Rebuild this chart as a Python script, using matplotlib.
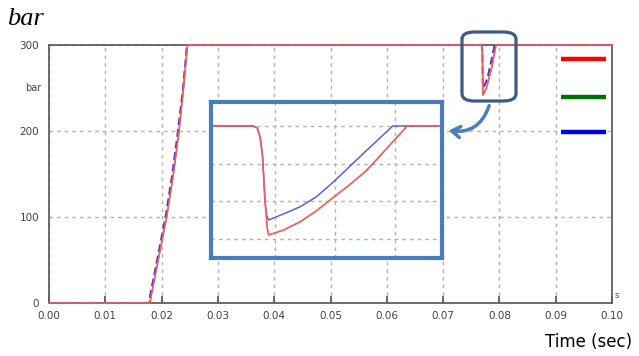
import matplotlib
matplotlib.use('Agg')
import matplotlib.pyplot as plt
from matplotlib.lines import Line2D
from matplotlib.patches import FancyBboxPatch, FancyArrowPatch

# pressure traces (bar) vs time (s)
red_t = [0.0, 0.0179, 0.0194, 0.0209, 0.0221, 0.0231, 0.0239, 0.0246,
         0.07683, 0.07690, 0.07695, 0.07699, 0.07703, 0.07707, 0.07709,
         0.07734, 0.07762, 0.07789, 0.0782, 0.07845, 0.07873, 0.07901,
         0.0794, 0.1]
red_v = [0, 0, 50, 100, 150, 200, 250, 300,
         300, 299, 294, 283.6, 260, 245, 241.9,
         244.5, 249.0, 254.8, 262.7, 268.9, 276.5, 286.3,
         300, 300]

blue_t = [0.0, 0.0177, 0.0192, 0.0207, 0.0219, 0.0229, 0.0238, 0.0245,
          0.07683, 0.07690, 0.07695, 0.07699, 0.07703, 0.07706, 0.07709,
          0.07734, 0.07762, 0.07789, 0.0782, 0.07845, 0.07873, 0.07916,
          0.1]
blue_v = [0, 0, 50, 100, 150, 200, 250, 300,
          300, 299, 294, 283.6, 260, 252, 249.9,
          253.1, 257.0, 262.3, 271.0, 278.7, 287.2, 300,
          300]

green_t = red_t
green_v = red_v

x_ticks = [0.00, 0.01, 0.02, 0.03, 0.04, 0.05, 0.06, 0.07, 0.08, 0.09, 0.10]
y_ticks = [0, 100, 200, 300]
inset_xgrid = [0.0772, 0.0782, 0.0792]
inset_ygrid = [240, 260, 280, 300]

W, H = 639, 356
fig = plt.figure(figsize=(W / 100, H / 100), dpi=100)
ax = fig.add_axes([49 / W, 1 - 303 / H, (612 - 49) / W, (303 - 45) / H])

grid_kw = dict(color='#b0b0b0', linestyle=(0, (2.5, 3)), linewidth=1)
for s in ax.spines.values():
    s.set_color('#606060')
    s.set_linewidth(1.3)

ax.plot(green_t, green_v, color='#00a000', lw=0.8, clip_on=False, zorder=3)
ax.plot(blue_t, blue_v, color='#4a30d8', lw=1.4, ls=(0, (4, 2)),
        clip_on=False, zorder=3)
ax.plot(red_t, red_v, color='#f85a64', lw=1.2, clip_on=False, zorder=4)

ax.set_xlim(0, 0.1)
ax.set_ylim(0, 300)
ax.set_xticks(x_ticks)
ax.set_xticklabels(['%.2f' % v for v in x_ticks])
ax.set_yticks(y_ticks)
ax.tick_params(axis='x', direction='in', length=5, width=1.2, color='#505050',
               labelsize=7.5, labelcolor='#404040', pad=6)
ax.tick_params(axis='y', length=0, labelsize=7.5, labelcolor='#404040', pad=7)
ax.grid(True, **grid_kw)
ax.set_axisbelow(True)

fig.text(7 / W, 1 - 25 / H, 'bar', fontsize=19, style='italic',
         family='Liberation Serif')
fig.text(33 / W, 1 - 88 / H, 'bar', fontsize=7, color='#404040',
         ha='center', va='center')
fig.text(617 / W, 1 - 296 / H, 's', fontsize=6.5, color='#505050',
         ha='center', va='center')
fig.text(632 / W, 1 - 342 / H, 'Time (sec)', fontsize=12, ha='right',
         va='center')

# legend-like colour swatches
for yy, c in [(59, '#ff0000'), (97, '#007000'), (132, '#0000e0')]:
    fig.add_artist(Line2D([561 / W, 606 / W], [1 - yy / H, 1 - yy / H],
                          color=c, lw=3.2, solid_capstyle='butt'))

# zoomed inset
ins = fig.add_axes([211 / W, 1 - 258 / H, (442 - 211) / W, (258 - 102) / H])
ins.plot(green_t, green_v, color='#00a000', lw=0.6)
ins.plot(blue_t, blue_v, color='#5050f0', lw=1.0)
ins.plot(red_t, red_v, color='#f85a64', lw=1.2)
ins.set_xlim(0.07613, 0.07998)
ins.set_ylim(229.6, 312.8)
ins.set_xticks(inset_xgrid)
ins.set_yticks(inset_ygrid)
ins.tick_params(length=0, labelbottom=False, labelleft=False)
ins.grid(True, **grid_kw)
ins.set_axisbelow(True)
for s in ins.spines.values():
    s.set_color('#4a7ebb')
    s.set_linewidth(3)

# callout box around the dip
box = FancyBboxPatch((462 / W, 1 - 101 / H), (516 - 462) / W, (101 - 32) / H,
                     boxstyle='round,pad=0,rounding_size=0.02',
                     transform=fig.transFigure, fill=False,
                     edgecolor='#3c5a82', lw=2.3)
fig.add_artist(box)
arr = FancyArrowPatch((490 / W, 1 - 103 / H), (446 / W, 1 - 130 / H),
                      transform=fig.transFigure,
                      connectionstyle='arc3,rad=-0.45',
                      arrowstyle='->,head_length=6,head_width=4',
                      color='#4a7ebb', lw=2.5)
fig.add_artist(arr)

fig.savefig('out.png', dpi=100)
